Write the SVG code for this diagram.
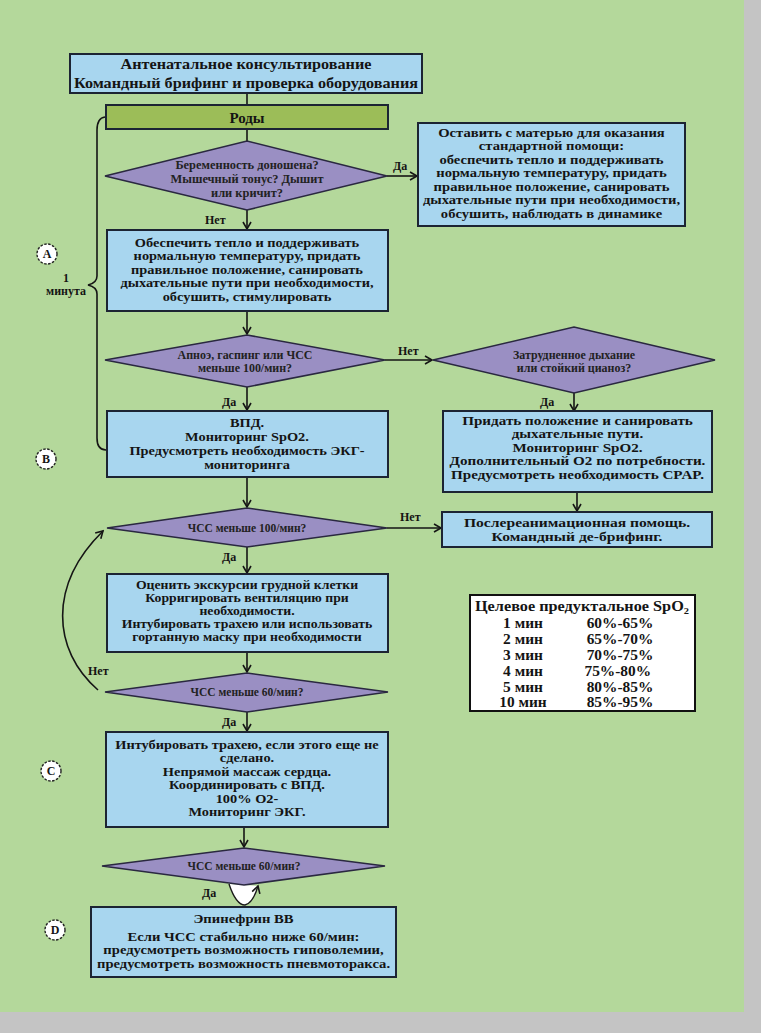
<svg xmlns="http://www.w3.org/2000/svg" width="761" height="1033" viewBox="0 0 761 1033">
<style>
.bg{fill:#b4d89b}
.box{fill:#a8d6ef;stroke:#1c2433;stroke-width:2}
.roda{fill:#9cbd58;stroke:#1c2433;stroke-width:2}
.dia{fill:#9a8fc3;stroke:#2a2840;stroke-width:1.6}
.t{font-family:"Liberation Serif","Times New Roman",serif;font-weight:bold;fill:#141414;text-anchor:middle}
.bt{font-size:12.5px}
.hd{font-size:15px}
.dt{font-size:11.5px;fill:#222}
.tt{font-size:14px}
.lb{font-size:12px;text-anchor:start}
.ln{fill:none;stroke:#151515;stroke-width:1.6}
.circ{fill:#fff;stroke:#222;stroke-width:1.4;stroke-dasharray:2.5 1.5}
.tb{fill:#fff;stroke:#111;stroke-width:2}
</style>
<defs>
<marker id="ar" markerWidth="10" markerHeight="10" refX="8" refY="5" orient="auto" markerUnits="userSpaceOnUse">
<path d="M1,1 L8,5 L1,9" fill="none" stroke="#151515" stroke-width="1.6"/>
</marker>
</defs>
<rect class="bg" x="0" y="0" width="761" height="1033"/>
<rect x="744" y="0" width="17" height="1033" fill="#c4c4c4"/>
<rect x="0" y="1012" width="761" height="21" fill="#c4c4c4"/>

<g id="connectors">
<line class="ln" x1="247" y1="93" x2="247" y2="105"/>
<line class="ln" x1="247" y1="129" x2="247" y2="141"/>
<line class="ln" x1="387" y1="176" x2="417" y2="176" marker-end="url(#ar)"/>
<line class="ln" x1="247" y1="210" x2="247" y2="229" marker-end="url(#ar)"/>
<line class="ln" x1="247" y1="311" x2="247" y2="334" marker-end="url(#ar)"/>
<line class="ln" x1="385" y1="360" x2="432" y2="360" marker-end="url(#ar)"/>
<line class="ln" x1="247" y1="387" x2="247" y2="410" marker-end="url(#ar)"/>
<line class="ln" x1="574" y1="393" x2="574" y2="411" marker-end="url(#ar)"/>
<line class="ln" x1="577" y1="492" x2="577" y2="511" marker-end="url(#ar)"/>
<line class="ln" x1="247" y1="477" x2="247" y2="507" marker-end="url(#ar)"/>
<line class="ln" x1="387" y1="528" x2="441" y2="528" marker-end="url(#ar)"/>
<line class="ln" x1="247" y1="547" x2="247" y2="573" marker-end="url(#ar)"/>
<line class="ln" x1="247" y1="652" x2="247" y2="672" marker-end="url(#ar)"/>
<line class="ln" x1="247" y1="712" x2="247" y2="731" marker-end="url(#ar)"/>
<path class="ln" d="M98 690 C52 650 48 585 103 531" marker-end="url(#ar)"/>
<line class="ln" x1="244" y1="827" x2="244" y2="847" marker-end="url(#ar)"/>
<path d="M229 884 Q236 905 245 905 Q253 903 258 886" fill="#fff" stroke="#1a1a1a" stroke-width="1.4" marker-end="url(#ar)"/>
<path class="ln" d="M105 117 Q97 118 97 130 L97 276 Q97 283 88 285 Q97 287 97 294 L97 438 Q97 450 106 450"/>
<text class="t lb" x="393" y="170">Да</text>
<text class="t lb" x="205" y="224">Нет</text>
<text class="t lb" x="398" y="355">Нет</text>
<text class="t lb" x="222" y="406">Да</text>
<text class="t lb" x="540" y="406">Да</text>
<text class="t lb" x="400" y="521">Нет</text>
<text class="t lb" x="222" y="561">Да</text>
<text class="t lb" x="88" y="675">Нет</text>
<text class="t lb" x="222" y="726">Да</text>
<text class="t lb" x="202" y="897">Да</text>
</g>

<g id="n-top">
<rect class="box" x="70" y="54" width="352" height="39"/>
<g transform="translate(246 0) scale(1.08 1)">
<text class="t hd" x="0" y="69">Антенатальное консультирование</text>
<text class="t hd" x="0" y="88">Командный брифинг и проверка оборудования</text>
</g>
</g>

<g id="n-rody">
<rect class="roda" x="106" y="105" width="282" height="24"/>
<text class="t hd" x="247" y="123">Роды</text>
</g>

<g id="n-d1">
<polygon class="dia" points="105,176 247,141 387,176 247,210"/>
<g transform="translate(247 0) scale(1.08 1)">
<text class="t dt" x="0" y="169">Беременность доношена?</text>
<text class="t dt" x="0" y="183">Мышечный тонус? Дышит</text>
<text class="t dt" x="0" y="197">или кричит?</text>
</g>
</g>

<g id="n-r1">
<rect class="box" x="418" y="123" width="267" height="103"/>
<g transform="translate(551.5 0) scale(1.17 1)">
<text class="t bt" x="0" y="137">Оставить с матерью для оказания</text>
<text class="t bt" x="0" y="150.5">стандартной помощи:</text>
<text class="t bt" x="0" y="164">обеспечить тепло и поддерживать</text>
<text class="t bt" x="0" y="177.5">нормальную температуру, придать</text>
<text class="t bt" x="0" y="191">правильное положение, санировать</text>
<text class="t bt" x="0" y="204.5">дыхательные пути при необходимости,</text>
<text class="t bt" x="0" y="218">обсушить, наблюдать в динамике</text>
</g>
</g>

<g id="n-b2">
<rect class="box" x="107" y="230" width="281" height="81"/>
<g transform="translate(247 0) scale(1.15 1)">
<text class="t bt" x="0" y="247">Обеспечить тепло и поддерживать</text>
<text class="t bt" x="0" y="260.5">нормальную температуру, придать</text>
<text class="t bt" x="0" y="274">правильное положение, санировать</text>
<text class="t bt" x="0" y="287.5">дыхательные пути при необходимости,</text>
<text class="t bt" x="0" y="301">обсушить, стимулировать</text>
</g>
</g>

<g id="n-d2">
<polygon class="dia" points="105,360 247,335 385,360 247,387"/>
<g transform="translate(245 0) scale(1.04 1)">
<text class="t dt" x="0" y="359">Апноэ, гаспинг или ЧСС</text>
<text class="t dt" x="0" y="372">меньше 100/мин?</text>
</g>
</g>

<g id="n-d3">
<polygon class="dia" points="433,360 574,327 715,360 574,393"/>
<g transform="translate(574 0) scale(1.04 1)">
<text class="t dt" x="0" y="359">Затрудненное дыхание</text>
<text class="t dt" x="0" y="372">или стойкий цианоз?</text>
</g>
</g>

<g id="n-b3">
<rect class="box" x="107" y="411" width="281" height="66"/>
<g transform="translate(247 0) scale(1.15 1)">
<text class="t bt" x="0" y="427">ВПД.</text>
<text class="t bt" x="0" y="441">Мониторинг SpO2.</text>
<text class="t bt" x="0" y="455">Предусмотреть необходимость ЭКГ-</text>
<text class="t bt" x="0" y="469">мониторинга</text>
</g>
</g>

<g id="n-r2">
<rect class="box" x="443" y="411" width="269" height="81"/>
<g transform="translate(577.5 0) scale(1.21 1)">
<text class="t bt" x="0" y="425">Придать положение и санировать</text>
<text class="t bt" x="0" y="438.5">дыхательные пути.</text>
<text class="t bt" x="0" y="452">Мониторинг SpO2.</text>
<text class="t bt" x="0" y="465.5">Дополнительный O2 по потребности.</text>
<text class="t bt" x="0" y="479">Предусмотреть необходимость CPAP.</text>
</g>
</g>

<g id="n-d4">
<polygon class="dia" points="107,528 247,508 387,528 247,547"/>
<text class="t dt" x="247" y="532">ЧСС меньше 100/мин?</text>
</g>

<g id="n-post">
<rect class="box" x="442" y="512" width="270" height="35"/>
<g transform="translate(577 0) scale(1.25 1)">
<text class="t bt" x="0" y="527">Послереанимационная помощь.</text>
<text class="t bt" x="0" y="541.5">Командный де-брифинг.</text>
</g>
</g>

<g id="n-b5">
<rect class="box" x="107" y="574" width="281" height="78"/>
<g transform="translate(247 0) scale(1.1 1)">
<text class="t bt" x="0" y="589">Оценить экскурсии грудной клетки</text>
<text class="t bt" x="0" y="602">Корригировать вентиляцию при</text>
<text class="t bt" x="0" y="615">необходимости.</text>
<text class="t bt" x="0" y="628">Интубировать трахею или использовать</text>
<text class="t bt" x="0" y="641">гортанную маску при необходимости</text>
</g>
</g>

<g id="n-table">
<rect class="tb" x="470" y="595" width="225" height="116"/>
<g transform="translate(582 0) scale(1.16 1)">
<text class="t tt" x="0" y="611">Целевое предуктальное SpO<tspan font-size="9" dy="3">2</tspan></text>
</g>
<g transform="translate(523 0) scale(1.1 1)">
<text class="t tt" x="0" y="628">1 мин</text>
<text class="t tt" x="0" y="644">2 мин</text>
<text class="t tt" x="0" y="660">3 мин</text>
<text class="t tt" x="0" y="676">4 мин</text>
<text class="t tt" x="0" y="692">5 мин</text>
<text class="t tt" x="0" y="707">10 мин</text>
</g>
<g transform="translate(620 0) scale(1.1 1)">
<text class="t tt" x="0" y="628">60%-65%</text>
<text class="t tt" x="0" y="644">65%-70%</text>
<text class="t tt" x="0" y="660">70%-75%</text>
<text class="t tt" x="-2" y="676">75%-80%</text>
<text class="t tt" x="0" y="692">80%-85%</text>
<text class="t tt" x="0" y="707">85%-95%</text>
</g>
</g>

<g id="n-d5">
<polygon class="dia" points="105,692 247,673 388,692 247,712"/>
<text class="t dt" x="247" y="696">ЧСС меньше 60/мин?</text>
</g>

<g id="n-b6">
<rect class="box" x="106" y="732" width="282" height="95"/>
<g transform="translate(247 0) scale(1.15 1)">
<text class="t bt" x="0" y="749">Интубировать трахею, если этого еще не</text>
<text class="t bt" x="0" y="762.5">сделано.</text>
<text class="t bt" x="0" y="776">Непрямой массаж сердца.</text>
<text class="t bt" x="0" y="789.5">Координировать с ВПД.</text>
<text class="t bt" x="0" y="803">100% O2-</text>
<text class="t bt" x="0" y="816.5">Мониторинг ЭКГ.</text>
</g>
</g>

<g id="n-d6">
<polygon class="dia" points="102,866 244,848 385,866 244,885"/>
<text class="t dt" x="244" y="870">ЧСС меньше 60/мин?</text>
</g>

<g id="n-b7">
<rect class="box" x="91" y="907" width="305" height="70"/>
<g transform="translate(243.5 0) scale(1.17 1)">
<text class="t bt" x="0" y="923">Эпинефрин ВВ</text>
<text class="t bt" x="0" y="941">Если ЧСС стабильно ниже 60/мин:</text>
<text class="t bt" x="0" y="954.5">предусмотреть возможность гиповолемии,</text>
<text class="t bt" x="0" y="968">предусмотреть возможность пневмоторакса.</text>
</g>
</g>

<g id="n-brace-label">
<text class="t" font-size="12" x="66" y="282">1</text>
<text class="t" font-size="12" x="66" y="295">минута</text>
</g>

<g id="n-A"><circle class="circ" cx="47" cy="254" r="10"/><text class="t" font-size="12" x="47" y="258">A</text></g>
<g id="n-B"><circle class="circ" cx="46" cy="459" r="10"/><text class="t" font-size="12" x="46" y="463">B</text></g>
<g id="n-C"><circle class="circ" cx="51" cy="771" r="10"/><text class="t" font-size="12" x="51" y="775">C</text></g>
<g id="n-D"><circle class="circ" cx="55" cy="930" r="10"/><text class="t" font-size="12" x="55" y="934">D</text></g>
</svg>
